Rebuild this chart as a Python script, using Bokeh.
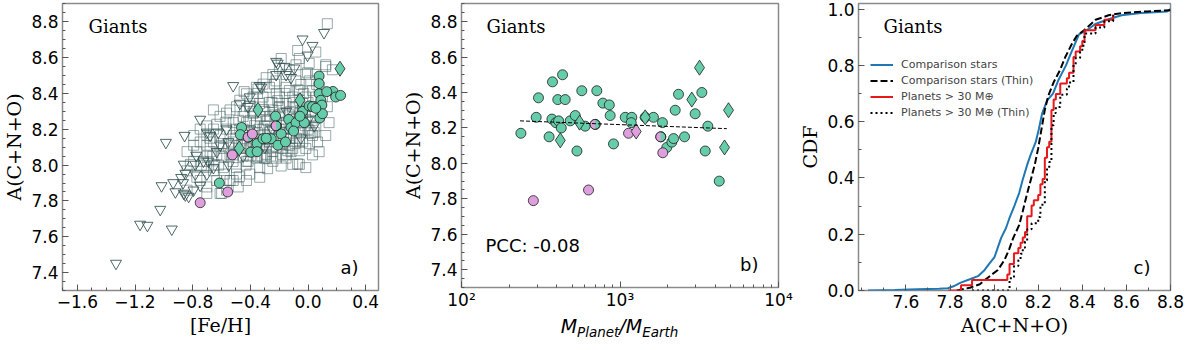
import numpy as np
from bokeh.plotting import figure
from bokeh.layouts import row, column
from bokeh.models import Range1d, FixedTicker, CustomJSTickFormatter, Label, Div
from bokeh.embed import file_html
from bokeh.resources import INLINE

# ---------------- data ----------------
# comparison giants, thin disc (open squares) : [Fe/H], A(C+N+O)
thin_feh = [0.134, -0.072, 0.008, 0.123, 0.169, -0.186, -0.003, -0.129, 0.066, -0.072, -0.186, -0.152, -0.335,
            -0.484, -0.599, -0.443, -0.347, -0.541, -0.232, 0.043, 0.043, -0.037, -0.118, -0.301, -0.416, -0.496,
            -0.541, -0.610, -0.477, -0.656, -0.633, -0.748, -0.702, -0.771, -0.725, -0.656, -0.839, -0.565, -0.541,
            -0.427, -0.381, -0.290, -0.244, -0.060, 0.008, 0.054, -0.060, -0.129, -0.175, -0.152, -0.106, -0.060,
            0.008, 0.054, -0.015, -0.129, -0.198, -0.244, -0.312, -0.290, -0.358, -0.404, -0.473, -0.519, -0.473,
            -0.381, -0.312, -0.267, -0.221, -0.175, -0.106, -0.060, -0.037, -0.083, -0.152, -0.221, -0.152, -0.267,
            -0.335, -0.381, -0.450, -0.519, -0.565, -0.610, -0.656, -0.587, -0.519, -0.633, -0.679, -0.748, -0.793,
            -0.839, -0.771, -0.702, -0.633, -0.496, -0.404, -0.358, -0.221, -0.152, -0.106, -0.015, 0.031, -0.037,
            0.031, 0.077, 0.100, 0.077, 0.123, -0.083, -0.198, -0.290, -0.358, -0.427, -0.496, -0.565, -0.610,
            -0.702, -0.793, -0.702, -0.656, -0.519, -0.450, -0.427, -0.335, -0.312, -0.267, -0.198, -0.152, -0.106,
            -0.060, -0.175, -0.129, -0.221, -0.290, -0.244, -0.335, -0.427, -0.519, -0.587, -0.702, -0.793, -0.816,
            -0.748, -0.839, -0.702, -0.565, -0.106, -0.015, 0.031, 0.077, 0.123, 0.146, 0.134, 0.054, 0.031, -0.015,
            0.054, -0.060, -0.244, -0.312, -0.381, -0.427, -0.473, -0.381, -0.267, -0.198, -0.129, -0.060, -0.015,
            -0.400, -0.350, -0.300, -0.250, -0.200, -0.150, -0.100, -0.050, -0.300, -0.200, -0.450, -0.550, -0.350,
            -0.250, -0.120, -0.400, -0.500, -0.600, -0.650, -0.280, -0.180, -0.080, 0.000, -0.330, -0.220, -0.050,
            0.020, -0.420, -0.570, -0.680,
            -0.55, -0.50, -0.48, -0.45, -0.43, -0.40, -0.38, -0.36, -0.34, -0.32, -0.30, -0.28, -0.27, -0.26,
            -0.24, -0.22, -0.20, -0.19, -0.17, -0.16, -0.14, -0.13, -0.11, -0.10, -0.09, -0.08, -0.07, -0.05,
            -0.04, -0.02, 0.00, 0.01, 0.03, 0.05, 0.06, -0.60, -0.62, -0.66, -0.70, -0.74, -0.58, -0.52, -0.46,
            -0.44, -0.37, -0.33, -0.31, -0.29, -0.23, -0.21, -0.18, -0.12, -0.06, -0.03, 0.02, -0.40, -0.35,
            -0.26, -0.15, -0.09]
thin_A = [8.789, 8.640, 8.568, 8.550, 8.532, 8.595, 8.515, 8.532, 8.129, 8.007, 7.995, 8.039, 7.986,
          7.878, 7.842, 8.410, 8.425, 8.308, 8.452, 8.326, 8.183, 8.129, 8.075, 8.039, 8.021, 7.950,
          7.914, 7.842, 7.935, 8.308, 8.228, 8.201, 8.111, 8.075, 8.021, 7.968, 7.968, 7.914, 8.057,
          8.021, 8.075, 8.039, 8.075, 8.004, 8.192, 8.219, 8.129, 8.147, 8.093, 8.201, 8.326, 8.416,
          8.470, 8.506, 8.380, 8.416, 8.380, 8.308, 8.380, 8.272, 8.237, 8.326, 8.362, 8.165, 8.111,
          8.165, 8.129, 8.183, 8.237, 8.290, 8.255, 8.290, 8.344, 8.470, 8.506, 8.470, 8.434, 8.434,
          8.344, 8.290, 8.272, 8.237, 8.201, 8.165, 8.129, 8.093, 8.057, 8.057, 8.075, 8.129, 8.021,
          8.075, 7.932, 7.878, 7.914, 7.986, 7.950, 8.039, 8.039, 8.057, 8.093, 8.093, 8.165, 8.237,
          8.272, 8.326, 8.380, 8.434, 8.560, 8.560, 8.541, 8.488, 8.434, 8.398, 8.326, 8.290, 8.272,
          8.219, 8.165, 8.165, 8.201, 8.129, 8.165, 8.093, 8.111, 8.201, 8.272, 8.326, 8.344, 8.380,
          8.362, 8.237, 8.183, 8.165, 8.111, 8.021, 7.932, 7.914, 7.914, 7.986, 7.986, 8.111, 8.004,
          7.914, 7.860, 7.842, 7.860, 8.004, 7.986, 8.057, 8.075, 8.165, 8.237, 8.326, 8.380, 8.416, 8.506,
          8.631, 8.595, 8.506, 8.452, 8.380, 8.237, 8.201, 8.129, 8.129, 8.129, 8.111, 8.201, 8.255,
          8.100, 8.180, 8.220, 8.100, 8.200, 8.150, 8.220, 8.250, 8.300, 8.280, 8.050, 8.120, 8.050,
          8.350, 8.300, 8.250, 8.200, 8.050, 8.000, 7.980, 8.060, 8.150, 8.200, 8.270, 8.400, 8.450,
          8.300, 8.140, 8.240, 8.150,
          8.10, 8.15, 8.25, 8.20, 8.00, 8.05, 8.30, 8.12, 8.20, 8.05, 8.17, 8.25, 8.35, 8.05,
          8.15, 8.10, 8.32, 8.22, 8.18, 8.40, 8.08, 8.28, 8.20, 8.35, 8.12, 8.26, 8.42, 8.18,
          8.30, 8.22, 8.35, 8.12, 8.25, 8.30, 8.45, 8.12, 8.00, 8.05, 8.05, 8.00, 7.95, 8.02, 8.12,
          8.30, 8.22, 8.14, 8.31, 8.06, 8.28, 8.36, 8.12, 8.15, 8.08, 8.40, 8.18, 8.33, 8.40,
          8.20, 8.24, 8.32]

# comparison giants, thick disc (open down triangles)
thick_feh = [-1.332, -1.165, -1.114, -0.945, -1.025, -1.016, -0.935, -0.867, -0.862, -0.986, -0.856, -0.748,
             -0.775, -0.851, -0.828, -0.794, -0.748, -0.851, -0.782, -0.702, -0.691, -0.862, -0.519, -0.335,
             -0.221, -0.038, 0.031, 0.111, -0.163, -0.210, -0.221, -0.095, -0.152, -0.118, -0.473, -0.416,
             0.043, -0.003, -0.324, -0.679, -0.610, -0.725, -0.656, -0.782, -0.702, -0.633, -0.565, -0.622,
             -0.553, -0.404, -0.450, -0.300, -0.250, -0.400, -0.150, -0.050, 0.000, -0.550, -0.920, -0.880]
thick_A = [7.451, 7.669, 7.663, 7.642, 7.752, 7.884, 7.901, 7.901, 8.004, 8.126, 8.165, 8.255,
           8.054, 7.833, 7.825, 7.860, 7.887, 7.953, 7.950, 8.183, 8.021, 7.842, 8.443, 8.443,
           8.578, 8.703, 8.667, 8.739, 8.550, 8.568, 8.505, 8.541, 8.505, 8.488, 8.344, 8.326,
           8.219, 8.613, 8.434, 8.165, 8.111, 8.022, 7.986, 8.004, 7.950, 8.075, 8.201, 8.183,
           8.129, 8.380, 8.050, 8.100, 8.200, 8.200, 8.300, 8.150, 8.250, 8.000, 7.850, 7.930]

# planet-host giants (panel a)
host_feh = [-0.748, -0.557, -0.615, -0.525, -0.477, -0.461, -0.470, -0.415, -0.386, -0.353, -0.397, -0.353,
            -0.347, -0.312, -0.255, -0.221, -0.225, -0.186, -0.209, -0.156, -0.134, -0.118, -0.083, -0.056,
            -0.037, -0.026, -0.056, 0.008, 0.031, 0.077, 0.077, 0.077, 0.089, 0.096, 0.082, 0.100, 0.173,
            0.192, 0.226, 0.222, 0.054, -0.100, -0.290, 0.130]
host_A = [7.79, 7.85, 7.90, 8.057, 8.093, 8.21, 8.17, 8.156, 8.174, 8.12, 8.072, 8.075,
          8.308, 8.147, 8.147, 8.219, 8.273, 8.174, 8.111, 8.129, 8.255, 8.21, 8.237, 8.362,
          8.30, 8.237, 8.273, 8.33, 8.326, 8.497, 8.455, 8.398, 8.362, 8.335, 8.263, 8.287, 8.411,
          8.38, 8.389, 8.538, 8.317, 8.19, 8.15, 8.41]
host_kind = ["p", "p", "g", "p", "gd", "g", "g", "h", "p", "g", "g", "g",
             "gd", "g", "g", "h", "g", "g", "g", "g", "g", "g", "g", "gd",
             "g", "g", "g", "g", "g", "g", "g", "g", "g", "g", "g", "g", "g",
             "g", "g", "gd", "g", "g", "g", "g"]

# planets (panel b): mass [M_Earth], host A(C+N+O)
planet_mass = [237, 284, 306, 296, 357, 375, 434, 405, 451, 372, 394, 410, 426, 485, 522, 420, 556, 535,
               603, 574, 714, 697, 780, 856, 867, 910, 1079, 1187, 1177, 1132, 1265, 1442, 1442, 1626,
               1853, 1808, 1862, 1974, 2124, 2178, 2230, 2340, 2553, 2838, 2980, 3174, 3283, 3582, 3449,
               4228, 4565, 4838, 633]
planet_A = [8.17, 7.79, 8.37, 8.26, 8.15, 8.46, 8.50, 8.36, 8.36, 8.25, 8.23, 8.24, 8.20, 8.24, 8.27, 8.13,
            8.23, 8.07, 8.21, 8.41, 8.41, 8.22, 8.34, 8.33, 8.27, 8.11, 8.26, 8.26, 8.23, 8.17, 8.18, 8.26,
            8.26, 8.26, 8.23, 8.15, 8.06, 8.09, 8.12, 8.14, 8.30, 8.39, 8.15, 8.36, 8.28, 8.54, 8.40, 8.21,
            8.07, 7.90, 8.09, 8.30, 7.85]
planet_kind = ["g", "p", "g", "g", "g", "g", "g", "g", "g", "g", "g", "g", "g", "g", "g", "gd",
               "gd", "g", "g", "g", "g", "h", "g", "g", "g", "g", "g", "g", "g", "p", "pd", "gd",
               "g", "g", "g", "h", "p", "g", "g", "g", "g", "g", "g", "gd", "g", "gd", "g", "g",
               "g", "g", "gd", "gd", "p"]
fit_mass = [234, 4720]
fit_A = [8.240, 8.196]
pcc_text = "PCC: -0.08"

# cumulative distributions of the comparison stars (panel c)
cdf_all_A = [7.428, 7.55, 7.65, 7.75, 7.79, 7.816, 7.846, 7.89, 7.927, 7.957, 7.98, 8.002, 8.017, 8.032,
             8.054, 8.069, 8.092, 8.114, 8.129, 8.151, 8.166, 8.189, 8.203, 8.218, 8.24, 8.267, 8.293,
             8.326, 8.352, 8.385, 8.43, 8.459, 8.519, 8.578, 8.667, 8.785, 8.80]
cdf_all_F = [0.0, 0.002, 0.004, 0.006, 0.008, 0.015, 0.027, 0.040, 0.051, 0.073, 0.097, 0.119, 0.153, 0.187,
             0.222, 0.256, 0.301, 0.347, 0.392, 0.449, 0.483, 0.528, 0.574, 0.630, 0.675, 0.700, 0.750,
             0.800, 0.850, 0.910, 0.930, 0.947, 0.964, 0.978, 0.986, 0.992, 1.0]
cdf_thin_A = [7.831, 7.89, 7.935, 7.98, 8.017, 8.047, 8.069, 8.087, 8.114, 8.129, 8.147, 8.166, 8.185, 8.20,
              8.215, 8.23, 8.245, 8.27, 8.30, 8.323, 8.352, 8.375, 8.408, 8.46, 8.519, 8.578, 8.696, 8.80]
cdf_thin_F = [0.0, 0.010, 0.022, 0.051, 0.073, 0.108, 0.148, 0.187, 0.233, 0.279, 0.336, 0.392, 0.449, 0.506,
              0.574, 0.642, 0.690, 0.740, 0.785, 0.830, 0.875, 0.905, 0.925, 0.962, 0.978, 0.986, 0.992, 0.996]

legend_labels = ["Comparison stars", "Comparison stars (Thin)", "Planets > 30 M\u2295", "Planets > 30 M\u2295 (Thin)"]

# ---------------- styling helpers ----------------
GREEN = "#66cdaa"
PINK = "#dda0dd"
EDGE = "#1e1e1e"
GREYLINE = "#2f4f4f"
FRAME = "#8a8a8a"
H = 342          # figure height
TOP = 3          # border above the frames
BOT = 52         # border below the frames (tick labels + axis title)
FRAME_H = H - TOP - BOT

lin_fmt = CustomJSTickFormatter(code="return tick.toFixed(1).replace('-', '\u2212');")


def base_figure(xr, yr, left, right, width, height=H, bottom=BOT, x_axis_type="linear"):
    p = figure(width=width, height=height, x_range=xr, y_range=yr, x_axis_type=x_axis_type,
               output_backend="svg", toolbar_location=None,
               min_border_left=left, min_border_right=right, min_border_top=TOP, min_border_bottom=bottom)
    p.xgrid.visible = False
    p.ygrid.visible = False
    p.outline_line_color = FRAME
    p.outline_line_width = 1.5
    p.background_fill_color = "white"
    p.border_fill_color = "white"
    for ax in (p.xaxis[0], p.yaxis[0]):
        ax.axis_line_color = None
        ax.major_tick_in = 6
        ax.major_tick_out = 0
        ax.minor_tick_in = 3
        ax.minor_tick_out = 0
        ax.major_tick_line_color = "#555555"
        ax.minor_tick_line_color = "#555555"
        ax.major_label_text_font = "DejaVu Sans"
        ax.major_label_text_font_size = "17px"
        ax.major_label_text_color = "black"
        ax.major_label_standoff = 4
        ax.axis_label_text_font = "DejaVu Serif"
        ax.axis_label_text_font_size = "19px"
        ax.axis_label_text_font_style = "normal"
        ax.axis_label_text_color = "black"
        ax.axis_label_standoff = 3
    return p


def corner_text(p, x, y, text, dx, dy, font, size, align="left"):
    p.add_layout(Label(x=x, y=y, x_offset=dx, y_offset=dy, text=text, text_font=font,
                       text_font_size=size, text_baseline="middle", text_align=align, text_color="black"))


def draw_hosts(p, xs, ys, kinds):
    xs = np.asarray(xs, dtype=float)
    ys = np.asarray(ys, dtype=float)
    kinds = np.asarray(kinds)
    m = np.isin(kinds, ["g", "h"])
    p.scatter(xs[m], ys[m], marker="circle", size=10, fill_color=GREEN, line_color=EDGE, line_width=0.8)
    m = kinds == "h"
    p.wedge(x=xs[m], y=ys[m], radius=5, radius_units="screen", start_angle=np.pi / 2,
            end_angle=3 * np.pi / 2, fill_color=PINK, line_color=None)
    p.scatter(xs[m], ys[m], marker="circle", size=10, fill_color=None, line_color=EDGE, line_width=0.8)
    m = kinds == "p"
    p.scatter(xs[m], ys[m], marker="circle", size=10, fill_color=PINK, line_color=EDGE, line_width=0.8)
    m = kinds == "gd"
    p.scatter(xs[m], ys[m], marker="diamond", size=15, fill_color=GREEN, line_color=EDGE, line_width=0.8)
    m = kinds == "pd"
    p.scatter(xs[m], ys[m], marker="diamond", size=15, fill_color=PINK, line_color=EDGE, line_width=0.8)


Y0, Y1 = 7.30, 8.902
yticks = [7.4, 7.6, 7.8, 8.0, 8.2, 8.4, 8.6, 8.8]
yminor = [round(7.3 + 0.05 * i, 2) for i in range(33)]

# ---------------- panel a ----------------
XA0, XA1 = -1.703, 0.489
pa = base_figure(Range1d(XA0, XA1), Range1d(Y0, Y1), 61, 20, 398)
pa.xaxis.ticker = FixedTicker(ticks=[-1.6, -1.2, -0.8, -0.4, 0.0, 0.4],
                              minor_ticks=[round(-1.7 + 0.1 * i, 1) for i in range(22)])
pa.yaxis.ticker = FixedTicker(ticks=yticks, minor_ticks=yminor)
pa.xaxis.formatter = lin_fmt
pa.yaxis.formatter = lin_fmt
pa.xaxis.axis_label = "[Fe/H]"
pa.yaxis.axis_label = "A(C+N+O)"
pa.scatter(thin_feh, thin_A, marker="square", size=10, fill_color=None, line_color="#456565",
           line_alpha=0.55, line_width=1)
pa.scatter(thick_feh, thick_A, marker="inverted_triangle", size=11, fill_color=None, line_color=GREYLINE,
           line_alpha=0.85, line_width=1)
draw_hosts(pa, host_feh, host_A, host_kind)
corner_text(pa, XA0, Y1, "Giants", 26, -23, "DejaVu Serif", "18px")
corner_text(pa, XA1, Y0, "a)", -20, 23, "DejaVu Sans", "18px", align="right")

# ---------------- panel b ----------------
PB_BOT = 22
STRIP = H - (TOP + FRAME_H + PB_BOT)
pb = base_figure(Range1d(100, 10000), Range1d(Y0, Y1), 63, 18, 398, height=H - STRIP, bottom=PB_BOT,
                 x_axis_type="log")
pb.xaxis.major_label_standoff = 2
pb.xaxis.ticker = FixedTicker(ticks=[100, 1000, 10000],
                              minor_ticks=[k * 100 for k in range(2, 10)] + [k * 1000 for k in range(2, 10)])
pb.xaxis.formatter = CustomJSTickFormatter(
    code="const m = {2: '10\u00b2', 3: '10\u00b3', 4: '10\u2074'}; return m[Math.round(Math.log10(tick))];")
pb.yaxis.ticker = FixedTicker(ticks=yticks, minor_ticks=yminor)
pb.yaxis.formatter = lin_fmt
pb.yaxis.axis_label = "A(C+N+O)"
draw_hosts(pb, planet_mass, planet_A, planet_kind)
pb.line(fit_mass, fit_A, line_color="black", line_width=1, line_dash="4 2")
corner_text(pb, 100, Y1, "Giants", 25, -23, "DejaVu Serif", "18px")
corner_text(pb, 10000, Y0, "b)", -20, 23, "DejaVu Sans", "18px", align="right")
corner_text(pb, 100, Y0, pcc_text, 24, 42, "DejaVu Sans", "18px")

# x-axis title of panel b (italic, with subscripts) as real HTML text below it
sub = "font-size:13.5px; vertical-align:-4px;"
title_html = (
    '<div style="width:317px; margin-left:63px; text-align:center; font-family:\'DejaVu Sans\'; '
    'font-size:19px; font-style:italic; line-height:22px; padding-top:3px; color:black; white-space:nowrap;">'
    f'M<span style="{sub}">Planet</span>/M<span style="{sub}">Earth</span></div>'
)
pbl = Div(text=title_html, width=398, height=STRIP, margin=0)

# ---------------- panel c ----------------
XC0, XC1 = 7.385, 8.80
pc = base_figure(Range1d(XC0, XC1), Range1d(0.0, 1.02), 62, 14, 388)
pc.xaxis.ticker = FixedTicker(ticks=[7.6, 7.8, 8.0, 8.2, 8.4, 8.6, 8.8],
                              minor_ticks=[round(7.4 + 0.1 * i, 1) for i in range(15)])
pc.yaxis.ticker = FixedTicker(ticks=[0.0, 0.2, 0.4, 0.6, 0.8, 1.0],
                              minor_ticks=[round(0.1 * i, 1) for i in range(11)])
pc.xaxis.formatter = lin_fmt
pc.yaxis.formatter = lin_fmt
pc.xaxis.axis_label = "A(C+N+O)"
pc.yaxis.axis_label = "CDF"

pA = np.sort(np.asarray(planet_A, dtype=float))
pF = np.arange(len(pA)) / len(pA)
thin_mask = np.isin(np.asarray(planet_kind), ["g", "gd"])
tA = np.sort(np.asarray(planet_A, dtype=float)[thin_mask])
tF = np.arange(len(tA)) / len(tA)

pc.line(cdf_all_A, cdf_all_F, line_color="#1f77b4", line_width=2, legend_label=legend_labels[0])
pc.line(cdf_thin_A, cdf_thin_F, line_color="black", line_width=2, line_dash="7 3", legend_label=legend_labels[1])
pc.step(pA, pF, mode="after", line_color="#e8191c", line_width=2, legend_label=legend_labels[2])
pc.step(tA, tF, mode="after", line_color="black", line_width=2, line_dash="2 3", legend_label=legend_labels[3])
lg = pc.legend[0]
lg.location = (12, 170)
lg.border_line_color = None
lg.background_fill_alpha = 0
lg.padding = 0
lg.margin = 0
lg.spacing = 1
lg.glyph_width = 23
lg.glyph_height = 15
lg.label_height = 15
lg.label_standoff = 8
lg.label_text_font = "DejaVu Sans"
lg.label_text_font_size = "11px"
corner_text(pc, XC0, 1.02, "Giants", 25, -23, "DejaVu Serif", "18px")
corner_text(pc, XC1, 0.0, "c)", -20, 23, "DejaVu Sans", "18px", align="right")

layout = row(pa, column(pb, pbl), pc)
open("out.html", "w").write(file_html(layout, INLINE))
